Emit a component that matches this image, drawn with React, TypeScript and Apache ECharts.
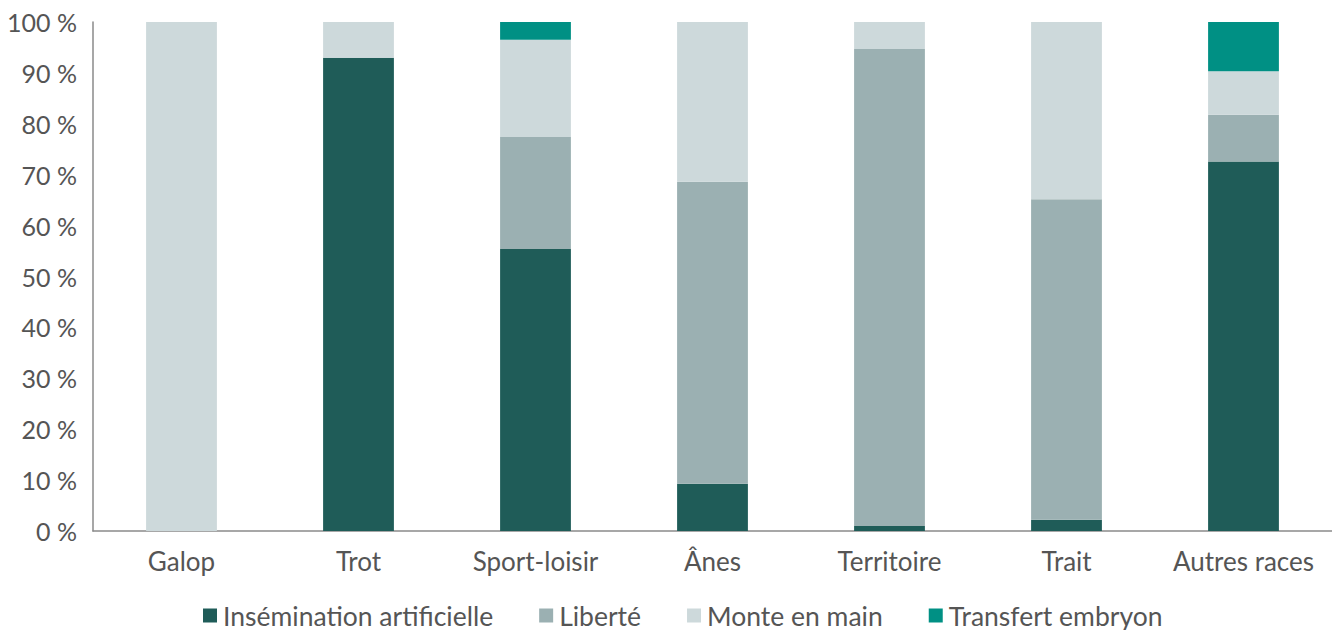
import React, { useEffect, useRef } from "react";
import * as echarts from "echarts";

const categories = ["Galop", "Trot", "Sport-loisir", "Ânes", "Territoire", "Trait", "Autres races"];
const insemination = [0, 93.0, 55.4, 9.3, 1.0, 2.2, 72.6];
const liberte = [0, 0, 22.0, 59.3, 93.7, 63.0, 9.2];
const monteEnMain = [100, 7.0, 19.1, 31.4, 5.3, 34.8, 8.5];
const transfertEmbryon = [0, 0, 3.5, 0, 0, 0, 9.7];
const yTicks = [0, 10, 20, 30, 40, 50, 60, 70, 80, 90, 100];

const seriesNames = ["Insémination artificielle", "Liberté", "Monte en main", "Transfert embryon"];
const seriesColors = ["#1f5c58", "#9bb0b2", "#cdd9db", "#009084"];

const FONT = "Lato, 'Open Sans', sans-serif";
const TEXT_COLOR = "#555555";

export default function App() {
  const ref = useRef<HTMLDivElement>(null);
  useEffect(() => {
    if (!ref.current) return;
    const chart = echarts.init(ref.current, null, { renderer: "svg" });
    const datasets = [insemination, liberte, monteEnMain, transfertEmbryon];
    chart.setOption({
      animation: false,
      textStyle: { fontFamily: FONT },
      grid: { left: 93, right: 0, top: 22, bottom: 99, containLabel: false },
      legend: {
        bottom: 1,
        left: 203,
        padding: 0,
        itemWidth: 14,
        itemHeight: 14,
        itemGap: 46,
        icon: "rect",
        textStyle: { fontSize: 26.5, color: TEXT_COLOR, fontFamily: FONT, padding: [0, 0, 0, 1] },
        data: seriesNames,
      },
      xAxis: {
        type: "category",
        data: categories,
        axisTick: { show: false },
        axisLine: { lineStyle: { color: "#8a8a8a", width: 1.5 } },
        axisLabel: { fontSize: 26, color: TEXT_COLOR, margin: 17, fontFamily: FONT, interval: 0 },
      },
      yAxis: {
        type: "value",
        min: yTicks[0],
        max: yTicks[yTicks.length - 1],
        interval: 10,
        splitLine: { show: false },
        axisTick: { show: false },
        axisLine: { show: true, lineStyle: { color: "#8a8a8a", width: 1.5 } },
        axisLabel: { fontSize: 25, color: TEXT_COLOR, margin: 16, formatter: "{value} %", fontFamily: FONT },
      },
      series: seriesNames.map((name, i) => ({
        name,
        type: "bar",
        stack: "total",
        barWidth: "40%",
        data: datasets[i],
        itemStyle: { color: seriesColors[i] },
      })),
    });
    return () => chart.dispose();
  }, []);
  return (
    <div
      ref={ref}
      style={{ position: "fixed", left: 0, top: 0, width: 1332, height: 630, background: "#fff" }}
    />
  );
}
